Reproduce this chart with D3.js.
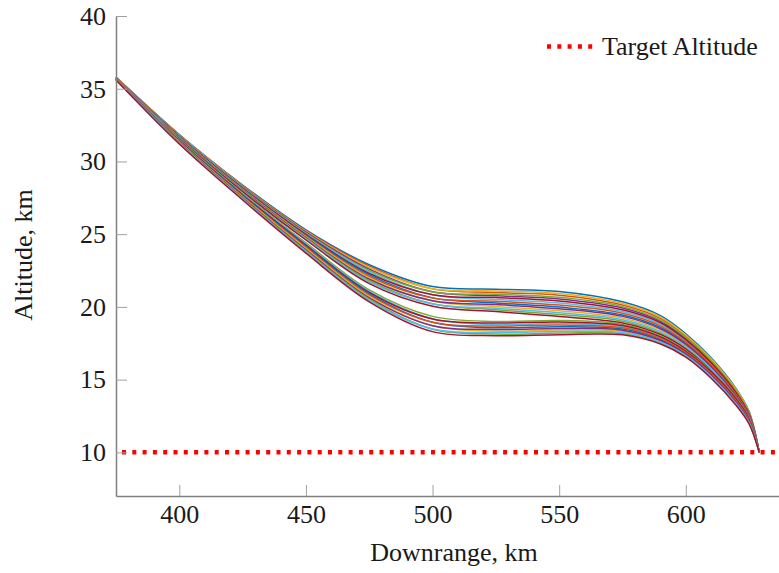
<!DOCTYPE html>
<head>
    <meta charset="utf-8">
    <title>Altitude vs downrange</title>
    <style>
        body {
            margin: 0;
            background: #fff;
        }
        svg text {
            font-family: "Liberation Serif", "Times New Roman", serif;
            fill: #1a1a1a;
        }
    </style>
</head>

<body>
    <script src="https://d3js.org/d3.v7.min.js"></script>

    <script>

        // downrange sample points (km) shared by every run
        var downrange = [375, 400, 425, 450, 475, 500, 525, 550, 575, 590, 600, 610, 620, 625, 629];

        // upper family of trajectories, altitude in km
        var upperRuns = [
            [35.80, 31.85, 28.38, 25.30, 22.90, 21.40, 21.22, 21.06, 20.35, 19.40, 18.15, 16.50, 14.35, 12.80, 10],
            [35.79, 31.83, 28.34, 25.24, 22.80, 21.24, 20.99, 20.80, 20.13, 19.21, 17.99, 16.37, 14.24, 12.73, 10],
            [35.78, 31.81, 28.31, 25.20, 22.71, 21.25, 21.10, 20.92, 20.23, 19.30, 18.07, 16.43, 14.29, 12.76, 10],
            [35.77, 31.78, 28.27, 25.14, 22.60, 21.04, 20.76, 20.54, 19.92, 19.01, 17.84, 16.23, 14.13, 12.65, 10],
            [35.75, 31.76, 28.24, 25.08, 22.50, 21.03, 20.87, 20.66, 20.02, 19.10, 17.91, 16.29, 14.18, 12.69, 10],
            [35.74, 31.74, 28.21, 25.03, 22.41, 20.83, 20.51, 20.27, 19.68, 18.80, 17.67, 16.09, 14.01, 12.57, 10],
            [35.73, 31.71, 28.17, 24.98, 22.30, 20.84, 20.64, 20.41, 19.80, 18.91, 17.75, 16.16, 14.07, 12.61, 10],
            [35.72, 31.69, 28.13, 24.92, 22.20, 20.62, 20.27, 19.99, 19.45, 18.59, 17.50, 15.94, 13.89, 12.49, 10],
            [35.71, 31.66, 28.09, 24.87, 22.09, 20.61, 20.39, 20.13, 19.57, 18.70, 17.58, 16.01, 13.95, 12.53, 10],
            [35.70, 31.64, 28.06, 24.82, 22.00, 20.41, 20.03, 19.74, 19.23, 18.40, 17.34, 15.81, 13.77, 12.42, 10],
            [35.68, 31.62, 28.03, 24.76, 21.90, 20.42, 20.16, 19.87, 19.35, 18.50, 17.43, 15.88, 13.83, 12.46, 10],
            [35.67, 31.60, 27.99, 24.71, 21.80, 20.21, 19.80, 19.48, 19.02, 18.20, 17.18, 15.67, 13.66, 12.34, 10],
            [35.66, 31.57, 27.96, 24.66, 21.70, 20.20, 19.91, 19.60, 19.12, 18.30, 17.26, 15.74, 13.71, 12.38, 10],
            [35.65, 31.55, 27.92, 24.60, 21.60, 20.05, 19.68, 19.34, 18.90, 18.10, 17.10, 15.60, 13.60, 12.30, 10]
        ];

        // lower family of trajectories, altitude in km
        var lowerRuns = [
            [35.72, 31.50, 27.81, 24.40, 21.17, 19.35, 19.00, 19.07, 18.80, 18.00, 17.00, 15.60, 13.70, 12.35, 10],
            [35.71, 31.47, 27.76, 24.32, 21.08, 19.18, 18.78, 18.85, 18.64, 17.88, 16.90, 15.49, 13.59, 12.26, 10],
            [35.69, 31.43, 27.71, 24.25, 20.99, 19.17, 18.89, 18.96, 18.72, 17.94, 16.95, 15.55, 13.65, 12.31, 10],
            [35.68, 31.40, 27.66, 24.17, 20.90, 18.95, 18.57, 18.64, 18.48, 17.76, 16.80, 15.38, 13.48, 12.17, 10],
            [35.67, 31.37, 27.61, 24.09, 20.81, 18.94, 18.68, 18.75, 18.56, 17.82, 16.85, 15.44, 13.54, 12.22, 10],
            [35.65, 31.33, 27.55, 24.01, 20.71, 18.70, 18.34, 18.41, 18.32, 17.63, 16.70, 15.27, 13.37, 12.08, 10],
            [35.64, 31.30, 27.50, 23.93, 20.62, 18.71, 18.45, 18.52, 18.40, 17.69, 16.75, 15.32, 13.42, 12.13, 10],
            [35.63, 31.27, 27.45, 23.85, 20.53, 18.47, 18.13, 18.20, 18.16, 17.51, 16.60, 15.16, 13.26, 11.99, 10],
            [35.61, 31.23, 27.40, 23.78, 20.44, 18.48, 18.24, 18.31, 18.24, 17.57, 16.65, 15.21, 13.31, 12.04, 10],
            [35.60, 31.20, 27.35, 23.70, 20.35, 18.30, 18.02, 18.09, 18.08, 17.45, 16.55, 15.10, 13.20, 11.95, 10]
        ];

        var targetAltitude = 10;
        var xTicks = [400, 450, 500, 550, 600];
        var yTicks = [10, 15, 20, 25, 30, 35, 40];
        var legendLabel = "Target Altitude";

        var width = 779,
            height = 573;
        var margin = {left: 116, right: 0, top: 16, bottom: 77};
        var serif = "'Liberation Serif', 'Times New Roman', Times, serif";

        // matlab default line colours
        var palette = ["#0072BD", "#D95319", "#EDB120", "#7E2F8E", "#77AC30", "#4DBEEE", "#A2142F"];

        var x = d3.scaleLinear()
            .domain([375, 636.8])
            .range([margin.left, width - margin.right]);

        var y = d3.scaleLinear()
            .domain([7, 40])
            .range([height - margin.bottom, margin.top]);

        var svg = d3.select("body").append("svg")
            .attr("width", width)
            .attr("height", height);

        var line = d3.line()
            .x(function (d, i) { return x(downrange[i]); })
            .y(function (d) { return y(d); })
            .curve(d3.curveCatmullRom.alpha(0.5));

        var runs = svg.append("g").attr("class", "runs");

        runs.selectAll("path.upper")
            .data(upperRuns)
            .enter().append("path")
            .attr("class", "upper")
            .attr("fill", "none")
            .attr("stroke", function (d, i) { return palette[i % 7]; })
            .attr("stroke-width", 1.5)
            .attr("d", line);

        runs.selectAll("path.lower")
            .data(lowerRuns)
            .enter().append("path")
            .attr("class", "lower")
            .attr("fill", "none")
            .attr("stroke", function (d, i) { return palette[(i + 4) % 7]; })
            .attr("stroke-width", 1.5)
            .attr("d", line);

        // target altitude, dotted red
        svg.append("line")
            .attr("x1", x(375))
            .attr("x2", width)
            .attr("y1", y(targetAltitude))
            .attr("y2", y(targetAltitude))
            .attr("stroke", "#ff0000")
            .attr("stroke-width", 4.5)
            .attr("stroke-dasharray", "4,6.3")
            .attr("stroke-dashoffset", 4.3);

        // axes, ticks pointing inwards
        var yAxis = svg.append("g")
            .attr("transform", "translate(" + margin.left + ",0)")
            .call(d3.axisLeft(y).tickValues(yTicks).tickSizeInner(-11).tickSizeOuter(0).tickPadding(10));

        var xAxis = svg.append("g")
            .attr("transform", "translate(0," + (height - margin.bottom) + ")")
            .call(d3.axisBottom(x).tickValues(xTicks).tickSizeInner(-11).tickSizeOuter(0).tickPadding(9));

        [xAxis, yAxis].forEach(function (a) {
            a.attr("font-family", serif).attr("font-size", 26);
            a.select(".domain").attr("stroke", "#808080").attr("stroke-width", 1.5);
            a.selectAll(".tick line").attr("stroke", "#a0a0a0").attr("stroke-width", 1);
            a.selectAll(".tick text")
                .attr("fill", "#1a1a1a")
                .style("font-family", serif)
                .style("font-size", "26px");
        });

        svg.append("text")
            .attr("x", 454)
            .attr("y", 561)
            .attr("text-anchor", "middle")
            .style("font-size", "26px")
            .text("Downrange, km");

        svg.append("text")
            .attr("transform", "translate(32,255) rotate(-90)")
            .attr("text-anchor", "middle")
            .style("font-size", "26px")
            .text("Altitude, km");

        // legend
        var legend = svg.append("g").attr("class", "legend");
        legend.append("line")
            .attr("x1", 547)
            .attr("x2", 594)
            .attr("y1", 46.5)
            .attr("y2", 46.5)
            .attr("stroke", "#ff0000")
            .attr("stroke-width", 4.5)
            .attr("stroke-dasharray", "4,6.3");
        legend.append("text")
            .attr("x", 602)
            .attr("y", 55)
            .style("font-size", "26px")
            .text(legendLabel);

    </script>
</body>
